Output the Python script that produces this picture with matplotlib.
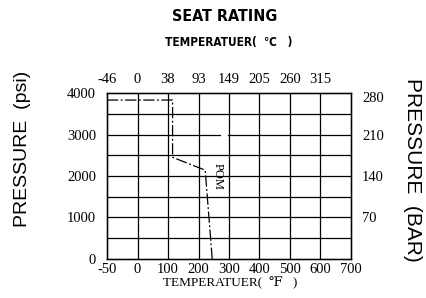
import matplotlib
matplotlib.use('Agg')
import matplotlib.pyplot as plt
import numpy as np

# axis tick values (the chart uses evenly spaced columns)
f_ticks = [-50, 0, 100, 200, 300, 400, 500, 600, 700]
c_ticks = ['-46', '0', '38', '93', '149', '205', '260', '315']
psi_ticks = [0, 1000, 2000, 3000, 4000]
bar_pos = [1000, 2000, 3000, 3900]
bar_labels = ['70', '140', '210', '280']

# POM seat rating curve (deg F, psi)
pom_temp = [-50, 115, 115, 222, 245]
pom_psi = [3830, 3830, 2450, 2140, 0]

serif = ['Liberation Serif', 'DejaVu Serif', 'Noto Sans CJK SC']
sans = ['Liberation Sans', 'DejaVu Sans', 'Noto Sans CJK SC']
cond = ['DejaVu Sans', 'Noto Sans CJK SC']


def fpos(t):
    return np.interp(t, f_ticks, np.arange(len(f_ticks)))


fig = plt.figure(figsize=(4.27, 2.98), dpi=100)
ax = fig.add_axes([0.2506, 0.1309, 0.5714, 0.557])

ax.set_xlim(0, len(f_ticks) - 1)
ax.set_ylim(0, 4000)

# grid
for i in range(1, len(f_ticks) - 1):
    ax.axvline(i, color='black', lw=0.9)
for p in range(500, 4000, 500):
    if p == 3000:
        ax.plot([0, fpos(270)], [p, p], color='black', lw=0.9)
        ax.plot([fpos(298), 8], [p, p], color='black', lw=0.9)
    else:
        ax.axhline(p, color='black', lw=0.9)

ax.plot(fpos(pom_temp), pom_psi, color='black', lw=0.9, linestyle=(0, (9, 2, 1.5, 2)))
ax.text(fpos(262), 2000, 'POM', rotation=-90, ha='center', va='center',
        fontsize=9, family=serif)

for s in ax.spines.values():
    s.set_color('black')
    s.set_linewidth(1)

ax.set_xticks(np.arange(len(f_ticks)))
ax.set_xticklabels([str(v) for v in f_ticks], family=serif, fontsize=10.5)
ax.set_yticks(psi_ticks)
ax.set_yticklabels([str(v) for v in psi_ticks], family=serif, fontsize=10.5)
ax.tick_params(axis='x', length=0, pad=3)
ax.tick_params(axis='y', length=0, pad=8)

axt = ax.twiny()
axt.set_xlim(ax.get_xlim())
axt.set_xticks(np.arange(len(c_ticks)))
axt.set_xticklabels(c_ticks, family=serif, fontsize=10.5)
axt.tick_params(length=0, pad=5)

axr = ax.twinx()
axr.set_ylim(ax.get_ylim())
axr.set_yticks(bar_pos)
axr.set_yticklabels(bar_labels, family=serif, fontsize=10.5)
axr.tick_params(length=0, pad=8)

fig.text(0.525, 0.945, 'SEAT RATING', ha='center', va='center', fontsize=11.5,
         fontweight='bold', fontstretch='condensed', family=cond)
fig.text(0.536, 0.858, 'TEMPERATUER(  \u2103   )', ha='center', va='center',
         fontsize=8.5, fontweight='bold', fontstretch='condensed', family=cond)
fig.text(0.54, 0.05, 'TEMPERATUER(  \u2109   )', ha='center', va='center',
         fontsize=9.5, family=serif)
fig.text(0.052, 0.5, 'PRESSURE  (psi)', ha='center', va='center',
         rotation=90, fontsize=14, family=sans)
fig.text(0.967, 0.43, 'PRESSURE  (BAR)', ha='center', va='center',
         rotation=-90, fontsize=15, family=sans)

fig.savefig('out.png', dpi=100)
